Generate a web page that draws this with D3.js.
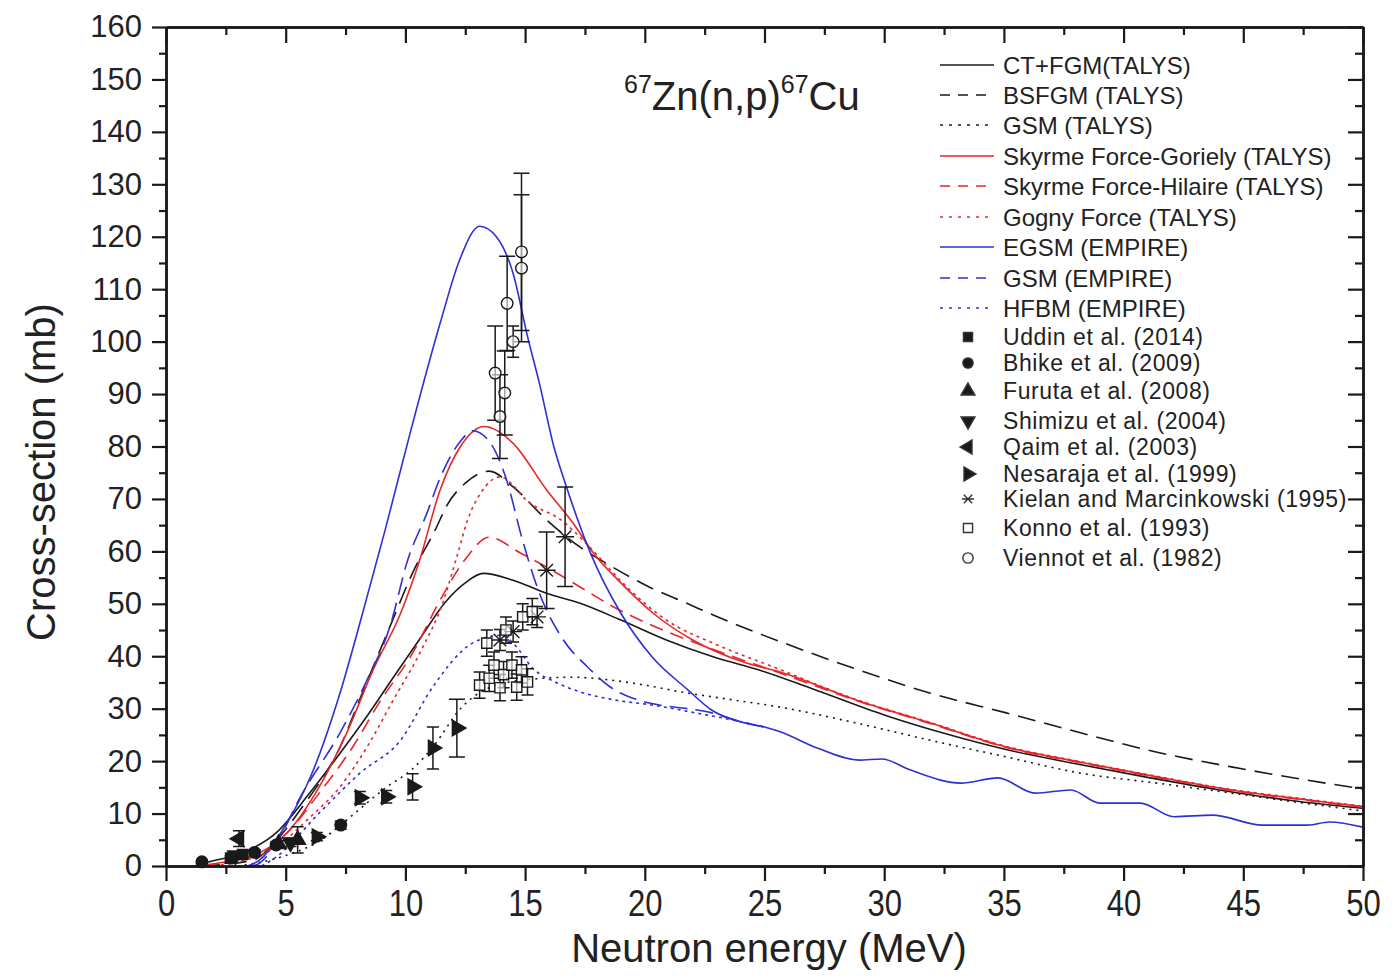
<!DOCTYPE html>
<html>
<head>
<meta charset="utf-8">
<script src="https://cdnjs.cloudflare.com/ajax/libs/d3/7.8.5/d3.min.js"></script>
<style>
  body { margin: 0; background: #fff; }
  text { font-family: "Liberation Sans", Arial, sans-serif; fill: #222; }
</style>
</head>
<body>
<div class="svg-content"></div>
<script>
// calculated curves, [energy MeV, cross-section mb]
const ctFgm = [[1.2,0],[1.8,0.8],[3.2,2.5],[4.6,6.3],[6.0,13.9],[7.27,21.5],[8.4,28.6],[9.5,36],[10.6,43.3],[11.7,50.5],[12.5,54],[13.25,55.8],[14.5,54.5],[15.9,52],[17.3,50.1],[19.0,46.9],[20.9,43.1],[22.85,39.9],[24.9,37.2],[27,33.8],[30,28.8],[32.5,25.3],[35,22.3],[38,19.5],[41,16.9],[44,14.5],[47,12.5],[50,11]];
const bsfgm = [[1.5,0],[3.7,1.2],[4.35,3.6],[5.7,11.3],[7.27,22.7],[8.2,33],[9.35,45.6],[10.3,55.9],[11.3,64.6],[11.7,68.5],[12.5,73],[13.5,75.3],[14.5,72.3],[15.9,66],[17.3,60.8],[18.4,57.7],[20.1,53.4],[21.8,50.0],[23.1,47.4],[24.5,44.8],[25.65,42.8],[28.8,37.6],[31.9,33],[35.1,29.2],[38.2,25.4],[41.4,21.7],[44.5,18.9],[47.5,16.5],[50,14.7]];
const gsmTalys = [[3,0],[5,2],[6.5,5],[7.55,8.8],[9.2,15],[10.3,18.5],[11.2,23],[12.3,30],[13.5,34],[15,35.5],[17,36],[18.5,35.5],[20,34.5],[21.5,33.2],[23.5,31.8],[25.65,30.3],[28.8,27.3],[31.9,24],[35.1,20.8],[38.2,17.7],[41.4,15.8],[44.5,13.9],[47.5,12],[50,10.5]];
const goriely = [[1.3,0],[2.5,0.8],[3.9,2.5],[5.05,6.3],[6.4,15.1],[7.55,25.4],[8.65,37.4],[9.8,48.2],[10.6,58.4],[11.45,71.7],[12.3,80],[13.3,83.8],[14.5,80.6],[15.9,71.7],[17.0,65.4],[17.85,59.7],[19.0,54],[20.35,48.2],[22.0,43.1],[24.25,38.7],[25.65,37],[28.8,31.7],[31.9,27.3],[35.1,22.7],[38.2,19.8],[41.4,17.0],[44.5,14.5],[47.7,12.6],[50,11.3]];
const hilaire = [[1.5,0],[3.9,2.3],[5.05,6.3],[6.4,13.9],[7.8,22.7],[8.9,31.1],[10.3,40.6],[11.45,50.7],[12.5,58.5],[13.5,62.7],[14.8,59.7],[15.9,57],[17.3,53.2],[18.7,49.4],[20.1,46.3],[21.8,43.1],[23.7,39.9],[25.65,36.8],[28.8,31.6],[31.9,27.2],[35.1,22.6],[38.2,19.7],[41.4,16.9],[44.5,14.4],[47.7,12.5],[50,11.2]];
const gogny = [[2,0],[4.6,3.6],[5.9,8.8],[7.27,15.1],[8.4,22.7],[9.5,31.7],[10.6,40.6],[11.6,50.7],[12.15,59],[12.6,66],[13.2,71.5],[13.95,74.2],[15.2,69.2],[16.5,66],[17.7,60.8],[19.25,53.2],[20.9,46.9],[22.85,42.5],[25.35,38],[28.8,31.8],[31.9,27.4],[35.1,22.8],[38.2,19.9],[41.4,17.1],[44.5,14.6],[47.7,12.7],[50,11.4]];
const egsm = [[3.4,0],[3.9,1.1],[5.05,8.2],[6.1,17.7],[7.27,33],[8.2,48],[9.15,64],[10.2,82.6],[11.45,103.5],[12.3,116],[13.1,122],[13.8,120],[14.5,113],[15.1,101],[15.6,92],[16.2,80],[16.75,72],[17.7,60],[19.0,48.2],[20.3,39.9],[21.8,33.6],[22.8,29.7],[24.0,27.5],[25.0,26.5],[25.65,25.6],[27.2,22.5],[28.95,20.2],[29.9,20.4],[31.1,18.3],[33.2,15.8],[34.75,16.8],[36.3,13.9],[37.8,14.5],[39.0,12.0],[40.7,12.0],[42.1,9.4],[43.7,9.7],[45.8,7.8],[47.7,7.8],[48.6,8.4],[50,7.4]];
const gsmEmpire = [[3.6,0],[3.9,0.5],[4.6,4.4],[5.7,13.9],[7.27,25.4],[8.4,35.5],[9.35,45.6],[10.1,58.4],[10.9,67.3],[11.45,74],[12.3,81],[12.8,83],[13.5,81],[14.2,74],[14.9,62],[15.6,52],[16.6,43.1],[17.6,38],[18.6,34],[19.7,31.7],[20.6,30.7],[21.8,30],[22.8,29.2],[24,27.5],[25,26.5]];
const hfbm = [[4,0],[4.6,1.7],[6.4,10.1],[8.1,17.7],[9.8,24],[11.15,34.2],[12.8,42.5],[14.0,44],[14.6,42],[15.3,37.8],[16.3,35],[17.3,33.2],[18.7,31.7],[20.3,30.7],[22,29.3],[23.5,28],[25,26.5]];

// measured data, [energy, cross-section, error]
const uddin = [[2.7,1.5,0.4],[3.2,2.2,0.5]];
const bhike = [[1.5,0.8,0.3],[3.7,2.6,0.5],[4.6,4.0,0.6],[7.3,7.8,0.8]];
const furuta = [[4.7,4.2,0.6],[5.5,5.0,2.5]];
const shimizu = [[2.9,2.0,0.5],[5.2,4.5,0.8]];
const qaim = [[3.05,5.2,1.5]];
const nesaraja = [[6.3,5.6,0.8],[8.1,13.0,1.2],[9.2,13.2,1.2],[10.3,15.1,2.5],[11.15,22.5,4],[12.15,26.3,5.5]];
const kielan = [[13.95,43.1,2],[14.5,44.7,2],[15.5,47.5,2],[15.9,56.4,7.3],[16.67,62.8,9.5]];
const konno = [[13.1,34.5,2.5],[13.5,35.8,2.5],[13.7,38.3,2.5],[13.95,34.0,2.5],[14.1,36.5,2.5],[14.45,38.3,2.5],[14.65,34.1,2.5],[14.85,37.4,2.5],[15.1,35.1,2.5],[13.4,42.5,2.5],[14.2,45,2.5],[14.9,47.5,2.5],[15.3,48.5,2.5]];
const viennot = [[13.95,85.7,8],[14.15,90.2,8],[13.75,94,9],[14.5,100,3],[14.25,107.3,9],[14.85,114,14],[14.85,117.1,15]];

const xTicks = [0,5,10,15,20,25,30,35,40,45,50];
const yTicks = [0,10,20,30,40,50,60,70,80,90,100,110,120,130,140,150,160];

const curveNames = ["CT+FGM(TALYS)","BSFGM (TALYS)","GSM (TALYS)","Skyrme Force-Goriely (TALYS)","Skyrme Force-Hilaire (TALYS)","Gogny Force (TALYS)","EGSM (EMPIRE)","GSM (EMPIRE)","HFBM (EMPIRE)"];
const pointNames = ["Uddin et al. (2014)","Bhike et al. (2009)","Furuta et al. (2008)","Shimizu et al. (2004)","Qaim et al. (2003)","Nesaraja et al. (1999)","Kielan and Marcinkowski (1995)","Konno et al. (1993)","Viennot et al. (1982)"];

const black = "#1a1a1a", red = "#e8262b", blue = "#2f2fd6";

const curves = [
  {data: ctFgm, color: black, dash: null, key: ""},
  {data: bsfgm, color: black, dash: "18,9", key: "10,8"},
  {data: gsmTalys, color: black, dash: "2,5", key: "3,6"},
  {data: goriely, color: red, dash: null, key: ""},
  {data: hilaire, color: red, dash: "14,8", key: "10,8"},
  {data: gogny, color: red, dash: "3,4", key: "3,6"},
  {data: egsm, color: blue, dash: null, key: ""},
  {data: gsmEmpire, color: blue, dash: "18,8", key: "10,8"},
  {data: hfbm, color: blue, dash: "3,4", key: "3,6"}
];

const sets = [
  {data: uddin, type: d3.symbolSquare, rot: 0, fill: true},
  {data: bhike, type: d3.symbolCircle, rot: 0, fill: true},
  {data: furuta, type: d3.symbolTriangle, rot: 0, fill: true},
  {data: shimizu, type: d3.symbolTriangle, rot: 180, fill: true},
  {data: qaim, type: d3.symbolTriangle, rot: -90, fill: true},
  {data: nesaraja, type: d3.symbolTriangle, rot: 90, fill: true},
  {data: kielan, type: "star", rot: 0, fill: false},
  {data: konno, type: d3.symbolSquare, rot: 0, fill: false},
  {data: viennot, type: d3.symbolCircle, rot: 0, fill: false}
];

const svgWidth = 1397;
const svgHeight = 980;

let svg = d3.select(".svg-content")
            .append("svg")
            .attr("width", svgWidth)
            .attr("height", svgHeight);

const xScale = d3.scaleLinear().domain([0, 50]).range([166, 1363]);
const yScale = d3.scaleLinear().domain([0, 160]).range([866, 27]);

svg.append("clipPath").attr("id", "plot-clip")
   .append("rect")
   .attr("x", 166).attr("y", 27)
   .attr("width", 1363 - 166).attr("height", 866 - 27);

// curves
const line = d3.line()
               .x(d => xScale(d[0]))
               .y(d => yScale(d[1]))
               .curve(d3.curveMonotoneX);

svg.append("g")
   .attr("clip-path", "url(#plot-clip)")
   .selectAll("path")
   .data(curves)
   .enter()
   .append("path")
   .attr("d", c => line(c.data))
   .attr("fill", "none")
   .attr("stroke", c => c.color)
   .attr("stroke-width", 1.6)
   .attr("stroke-dasharray", c => c.dash);

// symbols
function symbolPath(set, size) {
  if (set.type === "star") {
    const r = size;
    return `M${-r},0L${r},0M${-r*0.7},${-r*0.7}L${r*0.7},${r*0.7}M${-r*0.7},${r*0.7}L${r*0.7},${-r*0.7}`;
  }
  return d3.symbol().type(set.type).size(size * size * 1.3)();
}

sets.forEach(set => {
  let g = svg.append("g");

  // error bars
  g.selectAll(".err")
   .data(set.data)
   .enter()
   .append("path")
   .attr("d", d => {
      const x0 = xScale(d[0]);
      const yTop = yScale(d[1] + d[2]);
      const yBot = yScale(d[1] - d[2]);
      const cap = d[2] > 5 ? 8 : 6;
      return `M${x0},${yTop}L${x0},${yBot}M${x0 - cap},${yTop}L${x0 + cap},${yTop}M${x0 - cap},${yBot}L${x0 + cap},${yBot}`;
   })
   .attr("stroke", black)
   .attr("stroke-width", 1.5)
   .attr("fill", "none");

  g.selectAll(".mark")
   .data(set.data)
   .enter()
   .append("path")
   .attr("d", symbolPath(set, 9))
   .attr("transform", d => "translate(" + xScale(d[0]) + "," + yScale(d[1]) + ") rotate(" + set.rot + ")")
   .attr("fill", set.fill ? black : "#fff")
   .attr("fill-opacity", set.fill ? 1 : 0.6)
   .attr("stroke", black)
   .attr("stroke-width", 1.4);
});

// axes
const xMinor = d3.range(2.5, 50, 5);
const yMinor = d3.range(5, 160, 10);

function styleAxis(g) {
  g.select(".domain").attr("stroke", black).attr("stroke-width", 2.5);
  g.selectAll(".tick line").attr("stroke", black).attr("stroke-width", 2.2);
  g.selectAll("text").attr("font-size", 31).attr("fill", "#222")
   .attr("font-family", "Liberation Sans, Arial, sans-serif");
}

svg.append("g")
   .attr("transform", "translate(0,866)")
   .call(d3.axisBottom(xScale).tickValues(xTicks).tickSize(15).tickSizeOuter(0).tickPadding(8))
   .call(styleAxis)
   .call(g => g.selectAll("text").attr("transform", "scale(1,1.2)").attr("dy", "0.6em"));

svg.append("g")
   .attr("transform", "translate(0,866)")
   .call(d3.axisBottom(xScale).tickValues(xMinor).tickSize(8).tickSizeOuter(0).tickFormat(""))
   .call(styleAxis);

svg.append("g")
   .attr("transform", "translate(166,0)")
   .call(d3.axisLeft(yScale).tickValues(yTicks).tickSize(14).tickSizeOuter(0).tickPadding(10))
   .call(styleAxis);

svg.append("g")
   .attr("transform", "translate(166,0)")
   .call(d3.axisLeft(yScale).tickValues(yMinor).tickSize(7).tickSizeOuter(0).tickFormat(""))
   .call(styleAxis);

svg.append("g")
   .attr("transform", "translate(0,27)")
   .call(d3.axisTop(xScale).tickValues(xTicks).tickSize(-16).tickSizeOuter(0).tickFormat(""))
   .call(styleAxis);

svg.append("g")
   .attr("transform", "translate(0,27)")
   .call(d3.axisTop(xScale).tickValues(xMinor).tickSize(-8).tickSizeOuter(0).tickFormat(""))
   .call(styleAxis);

svg.append("g")
   .attr("transform", "translate(1363,0)")
   .call(d3.axisRight(yScale).tickValues(yTicks).tickSize(-15).tickSizeOuter(0).tickFormat(""))
   .call(styleAxis);

svg.append("g")
   .attr("transform", "translate(1363,0)")
   .call(d3.axisRight(yScale).tickValues(yMinor).tickSize(-8).tickSizeOuter(0).tickFormat(""))
   .call(styleAxis);

// axis titles
svg.append("text")
   .attr("x", 769)
   .attr("y", 962)
   .attr("text-anchor", "middle")
   .attr("font-size", 40)
   .text("Neutron energy (MeV)");

svg.append("text")
   .attr("transform", "translate(55,472) rotate(-90)")
   .attr("text-anchor", "middle")
   .attr("font-size", 40)
   .text("Cross-section (mb)");

// reaction label
let title = svg.append("text")
               .attr("x", 624)
               .attr("y", 110)
               .attr("font-size", 40);
title.append("tspan").attr("font-size", 25).attr("dy", -17).text("67");
title.append("tspan").attr("dy", 17).text("Zn(n,p)");
title.append("tspan").attr("font-size", 25).attr("dy", -17).text("67");
title.append("tspan").attr("dy", 17).text("Cu");

// legend, lines
const lineRows = [65, 95, 125, 156, 186, 217, 247, 278, 308];
let legend = svg.append("g");

curves.forEach((c, i) => {
  legend.append("line")
        .attr("x1", 940).attr("x2", 994)
        .attr("y1", lineRows[i]).attr("y2", lineRows[i])
        .attr("stroke", c.color)
        .attr("stroke-width", 1.6)
        .attr("stroke-dasharray", c.key || null);
  legend.append("text")
        .attr("x", 1003)
        .attr("y", lineRows[i])
        .attr("dy", "0.36em")
        .attr("font-size", 24)
        .attr("fill", "#333")
        .text(curveNames[i]);
});

// legend, symbols
const pointRows = [337, 363, 391, 421, 447, 474, 499, 528, 558];

sets.forEach((set, i) => {
  legend.append("path")
        .attr("d", symbolPath(set, set.type === "star" ? 6 : 8))
        .attr("transform", "translate(968," + pointRows[i] + ") rotate(" + set.rot + ")")
        .attr("fill", set.fill ? black : "#fff")
        .attr("stroke", "#333")
        .attr("stroke-width", 1.4);
  legend.append("text")
        .attr("x", 1003)
        .attr("y", pointRows[i])
        .attr("dy", "0.36em")
        .attr("font-size", 23)
        .attr("letter-spacing", 0.6)
        .attr("fill", "#333")
        .text(pointNames[i]);
});
</script>
</body>
</html>
